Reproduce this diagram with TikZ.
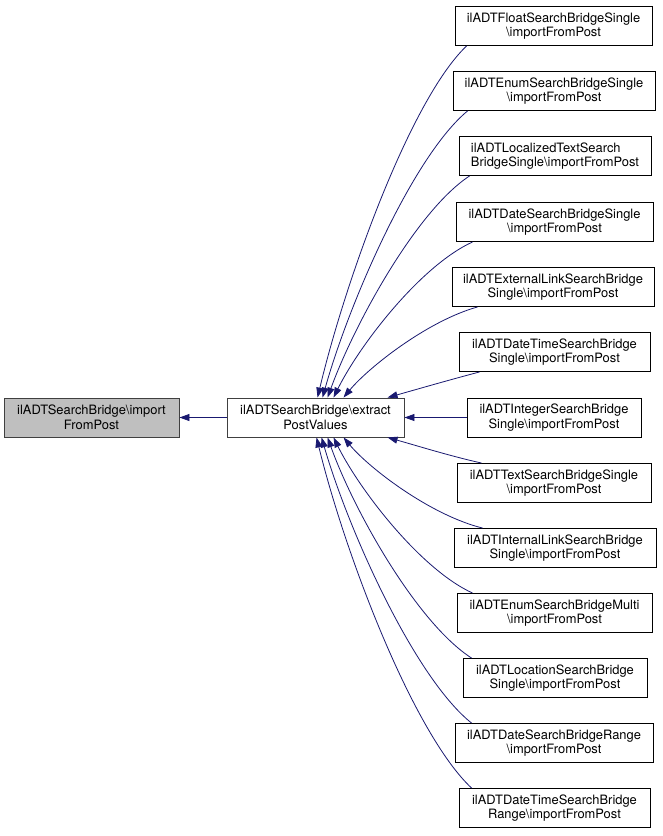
\documentclass[tikz,border=0pt]{standalone}
\usepackage{fontspec}
\setmainfont{TeX Gyre Heros}
\usetikzlibrary{arrows.meta}
\definecolor{midnight}{RGB}{25,25,112}
\tikzset{
  box/.style={draw=black, fill=white, line width=0.9pt, minimum height=39pt,
    inner xsep=2pt, align=center, font=\fontsize{12.9}{14.5}\selectfont},
  graybox/.style={box, draw=black!75, fill=black!25},
  edge/.style={draw=midnight, line width=0.8pt, -{Triangle[length=10pt,width=7pt]}},
}
\begin{document}
\begin{tikzpicture}[x=1pt,y=-1pt]
        \useasboundingbox (0,0) rectangle (663,836);
        \node[graybox, minimum width=175pt] (root) at (91.5,417.5) {ilADTSearchBridge\textbackslash import\\FromPost};
        \node[box, draw=black!75, minimum width=177pt] (extract) at (315.5,417.5) {ilADTSearchBridge\textbackslash extract\\PostValues};
        \node[box, minimum width=197pt] (floatsingle) at (553.5,26) {ilADTFloatSearchBridgeSingle\\\textbackslash importFromPost};
        \node[box, minimum width=202pt] (enumsingle) at (554,91) {ilADTEnumSearchBridgeSingle\\\textbackslash importFromPost};
        \node[box, minimum width=192pt, align=left] (loctext) at (555,156) {ilADTLocalizedTextSearch\\BridgeSingle\textbackslash importFromPost};
        \node[box, minimum width=197pt] (datesingle) at (554.5,222) {ilADTDateSearchBridgeSingle\\\textbackslash importFromPost};
        \node[box, minimum width=202pt] (extlink) at (553,287) {ilADTExternalLinkSearchBridge\\Single\textbackslash importFromPost};
        \node[box, minimum width=191pt] (datetimesingle) at (554.5,352) {ilADTDateTimeSearchBridge\\Single\textbackslash importFromPost};
        \node[box, minimum width=174pt] (intsingle) at (554,417.5) {ilADTIntegerSearchBridge\\Single\textbackslash importFromPost};
        \node[box, minimum width=194pt] (textsingle) at (554,483) {ilADTTextSearchBridgeSingle\\\textbackslash importFromPost};
        \node[box, minimum width=202pt] (intlink) at (555,548) {ilADTInternalLinkSearchBridge\\Single\textbackslash importFromPost};
        \node[box, minimum width=195pt] (enummulti) at (554.5,613) {ilADTEnumSearchBridgeMulti\\\textbackslash importFromPost};
        \node[box, minimum width=184pt] (location) at (555,678) {ilADTLocationSearchBridge\\Single\textbackslash importFromPost};
        \node[box, minimum width=198pt] (daterange) at (554,743) {ilADTDateSearchBridgeRange\\\textbackslash importFromPost};
        \node[box, minimum width=191pt] (datetimerange) at (554.5,808) {ilADTDateTimeSearchBridge\\Range\textbackslash importFromPost};
        % callers above
        \draw[edge] (extract) -- (root);
        \draw[edge] ([xshift=12pt]floatsingle.south west) .. controls (410,100) and (345,282) .. ([xshift=91pt]extract.north west);
        \draw[edge] ([xshift=15pt]enumsingle.south west) .. controls (413,156) and (349,303) .. ([xshift=96pt]extract.north west);
        \draw[edge] ([xshift=11pt]loctext.south west) .. controls (416,211) and (354,325) .. ([xshift=101pt]extract.north west);
        \draw[edge] ([xshift=17pt]datesingle.south west) .. controls (420,266) and (359,346) .. ([xshift=107pt]extract.north west);
        \draw[edge] ([xshift=26pt]extlink.south west) .. controls (427,321) and (368,368) .. ([xshift=117pt]extract.north west);
        \draw[edge] ([xshift=21pt]datetimesingle.south west) .. controls (449,380) and (418,389) .. ([xshift=161pt]extract.north west);
        \draw[edge] (intsingle) -- (extract);
        % callers below
        \draw[edge] ([xshift=25pt]textsingle.north west) .. controls (450,456) and (418,446) .. ([xshift=161pt]extract.south west);
        \draw[edge] ([xshift=29pt]intlink.north west) .. controls (430,515) and (369,468) .. ([xshift=117pt]extract.south west);
        \draw[edge] ([xshift=16pt]enummulti.north west) .. controls (420,569) and (359,489) .. ([xshift=107pt]extract.south west);
        \draw[edge] ([xshift=9pt]location.north west) .. controls (417,623) and (354,511) .. ([xshift=101pt]extract.south west);
        \draw[edge] ([xshift=17pt]daterange.north west) .. controls (415,678) and (349,532) .. ([xshift=95pt]extract.south west);
        \draw[edge] ([xshift=13pt]datetimerange.north west) .. controls (413,733) and (345,554) .. ([xshift=90pt]extract.south west);
    \end{tikzpicture}
\end{document}
